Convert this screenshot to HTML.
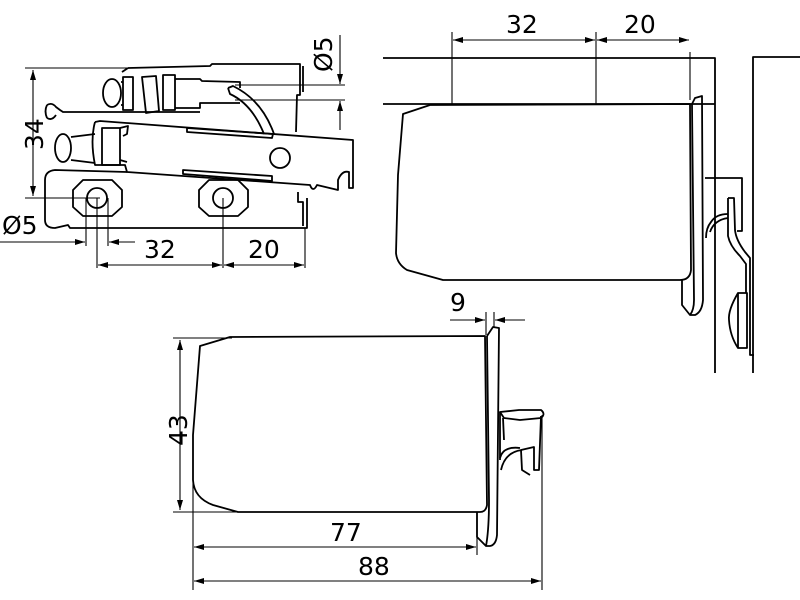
<!DOCTYPE html>
<html><head><meta charset="utf-8"><style>
html,body{margin:0;padding:0;background:#fff;}
svg{display:block;}
text{font-family:"DejaVu Sans","Liberation Sans",sans-serif;font-size:25px;fill:#000;}
</style></head><body>
<svg width="800" height="600" viewBox="0 0 800 600" xmlns="http://www.w3.org/2000/svg">
<defs>
<marker id="a" viewBox="0 0 10 6" refX="10" refY="3" markerWidth="12" markerHeight="6" orient="auto-start-reverse" markerUnits="userSpaceOnUse"><path d="M0,0 L10,3 L0,6 z" fill="#000"/></marker>
</defs>
<g fill="none" stroke="#000" stroke-width="1.8" stroke-linejoin="round">
<path d="M128,68 L210,66 L212,64 L300,64 L300,95 L297,95 L296,132"/>
<path d="M128,68 L122,72"/>
<path d="M303,66 L303,92"/>
<ellipse cx="112" cy="93" rx="9" ry="14"/>
<rect x="123" y="77" width="10" height="33"/>
<path d="M142,77 L156,76 L159,111 L146,113 z"/>
<rect x="163" y="75" width="12" height="35"/>
<path d="M175,79 L200,79 L202,81 L240,82 L240,88 M175,108 L200,108 L200,103 L240,103"/>
<path d="M121,82 L123,82 M121,105 L123,105"/>
<path d="M47,105 Q52,102 56,107 L60,110 L63,112 L200,112 M47,118 Q52,121 56,115"/>
<path d="M47,105 Q44,111 47,118"/>
<path d="M228,88 L233,86 Q262,100 274,134 M228,88 L230,94 Q252,104 264,134"/>
<path d="M95,122 L100,121 L353,140 L353,188 L349,188 L349,172 Q342,170 338,180 L338,190 L317,185 Q313,193 310,185 L127,172 L125,165 L120,165"/>
<path d="M95,122 Q90,140 95,165 L120,165"/>
<path d="M187,128 L273,134 L272,138 L187,132 z"/>
<path d="M183,170 L272,176 L272,181 L183,174 z"/>
<circle cx="280" cy="158" r="10"/>
<ellipse cx="63" cy="148" rx="8" ry="14"/>
<path d="M71,137 L95,134 M71,160 L95,163"/>
<rect x="102" y="128" width="18" height="37"/>
<path d="M120,128 L128,126 L127,134 L123,136 M120,160 L127,162"/>
<path d="M307,198 L307,228 L70,228 L68,225 L55,228 Q45,228 45,220 L45,180 Q45,171 55,170 L127,172"/>
<path d="M298,192 L298,202 L303,202 L303,226"/>
<path d="M83,180 L112,180 L122,190 L122,207 L112,216 L83,216 L73,207 L73,190 z"/>
<circle cx="97" cy="198" r="10"/>
<path d="M209,180 L238,180 L248,190 L248,207 L238,216 L209,216 L199,207 L199,190 z"/>
<circle cx="223" cy="198" r="10"/>
</g>
<g fill="none" stroke="#000" stroke-width="1.1">
<line x1="25" y1="68" x2="130" y2="68"/>
<line x1="25" y1="198" x2="100" y2="198"/>
<line x1="33" y1="70" x2="33" y2="196" marker-start="url(#a)" marker-end="url(#a)"/>
<line x1="235" y1="85" x2="345" y2="85"/>
<line x1="235" y1="100" x2="345" y2="100"/>
<line x1="340" y1="35" x2="340" y2="84" marker-end="url(#a)"/>
<line x1="340" y1="130" x2="340" y2="101" marker-end="url(#a)"/>
<line x1="86" y1="198" x2="86" y2="246"/>
<line x1="108" y1="198" x2="108" y2="246"/>
<line x1="97" y1="198" x2="97" y2="268"/>
<line x1="223" y1="198" x2="223" y2="268"/>
<line x1="305" y1="228" x2="305" y2="268"/>
<line x1="0" y1="242" x2="85" y2="242" marker-end="url(#a)"/>
<line x1="135" y1="242" x2="109" y2="242" marker-end="url(#a)"/>
<line x1="98" y1="265" x2="222" y2="265" marker-start="url(#a)" marker-end="url(#a)"/>
<line x1="224" y1="265" x2="304" y2="265" marker-start="url(#a)" marker-end="url(#a)"/>
</g>
<text x="0" y="0" transform="translate(43,150) rotate(-90)">34</text>
<text x="0" y="0" transform="translate(332,72) rotate(-90)">Ø5</text>
<text x="2" y="234">Ø5</text>
<text x="144" y="258">32</text>
<text x="248" y="258">20</text>

<g fill="none" stroke="#000" stroke-width="1.8" stroke-linejoin="round">
<path d="M383,58 L715,58 L715,373"/>
<line x1="383" y1="104" x2="715" y2="104"/>
<path d="M753,373 L753,57 L800,57"/>
<path d="M403,114 L430,105 L690,104 L691,270 Q690,280 680,280 L443,280 L407,270 Q397,264 396,253 L398,175 L403,114 z"/>
<path d="M692,104 L695,98 L702,96 L703,300 Q702,312 695,315 L690,315 L682,305 L682,280"/>
<path d="M692,104 L694,300 Q694,310 690,315"/>
<path d="M705,178 L742,178 L742,231 L737,231"/>
<path d="M728,198 L734,198 L735,230 Q736,240 745,252 L750,258 L750,355 L754,355"/>
<path d="M728,198 L728,236 Q730,246 740,256 L746,264 L746,293"/>
<path d="M738,293 L747,293 L747,348 L738,348 z"/>
<path d="M738,293 Q728,310 729,320 Q730,336 738,348"/>
<path d="M728,214 Q716,214 711,222 Q706,228 706,238"/>
<path d="M728,218 Q714,220 710,232"/>
</g>
<g fill="none" stroke="#000" stroke-width="1.1">
<line x1="452" y1="32" x2="452" y2="104"/>
<line x1="596" y1="32" x2="596" y2="104"/>
<line x1="690" y1="52" x2="690" y2="100"/>
<line x1="453" y1="40" x2="595" y2="40" marker-start="url(#a)" marker-end="url(#a)"/>
<line x1="597" y1="40" x2="689" y2="40" marker-start="url(#a)" marker-end="url(#a)"/>
</g>
<text x="506" y="33">32</text>
<text x="624" y="33">20</text>

<g fill="none" stroke="#000" stroke-width="1.8" stroke-linejoin="round">
<path d="M200,346 L230,337 L485,336 L487,505 Q486,512 480,512 L238,512 L213,505 Q194,498 193,480 L193,435 L200,346 z"/>
<path d="M487,336 L493,327 L499,328 L497,535 Q496,545 490,546 L486,546 L477,537 L477,512"/>
<path d="M487,336 L489,500 Q489,530 486,546"/>
<path d="M500,412 L519,410 L541,410 Q546,414 541,418 L520,420 L504,418 z"/>
<path d="M541,416 L539,470 L534,470 L534,447 L521,450 L522,470 L530,475"/>
<path d="M522,450 Q505,452 501,470 M520,448 Q503,446 500,458"/>
<path d="M503,418 L504,440 M500,412 L500,460"/>
</g>
<g fill="none" stroke="#000" stroke-width="1.1">
<line x1="173" y1="338" x2="232" y2="338"/>
<line x1="173" y1="512" x2="240" y2="512"/>
<line x1="180" y1="340" x2="180" y2="510" marker-start="url(#a)" marker-end="url(#a)"/>
<line x1="193" y1="480" x2="193" y2="590"/>
<line x1="477" y1="512" x2="477" y2="555"/>
<line x1="542" y1="415" x2="542" y2="590"/>
<line x1="194" y1="547" x2="476" y2="547" marker-start="url(#a)" marker-end="url(#a)"/>
<line x1="194" y1="581" x2="541" y2="581" marker-start="url(#a)" marker-end="url(#a)"/>
<line x1="486" y1="312" x2="486" y2="335"/>
<line x1="494" y1="312" x2="494" y2="328"/>
<line x1="450" y1="320" x2="485" y2="320" marker-end="url(#a)"/>
<line x1="525" y1="320" x2="495" y2="320" marker-end="url(#a)"/>
</g>
<text x="0" y="0" transform="translate(187,446) rotate(-90)">43</text>
<text x="330" y="541">77</text>
<text x="358" y="575">88</text>
<text x="450" y="311">9</text>
</svg>
</body></html>
